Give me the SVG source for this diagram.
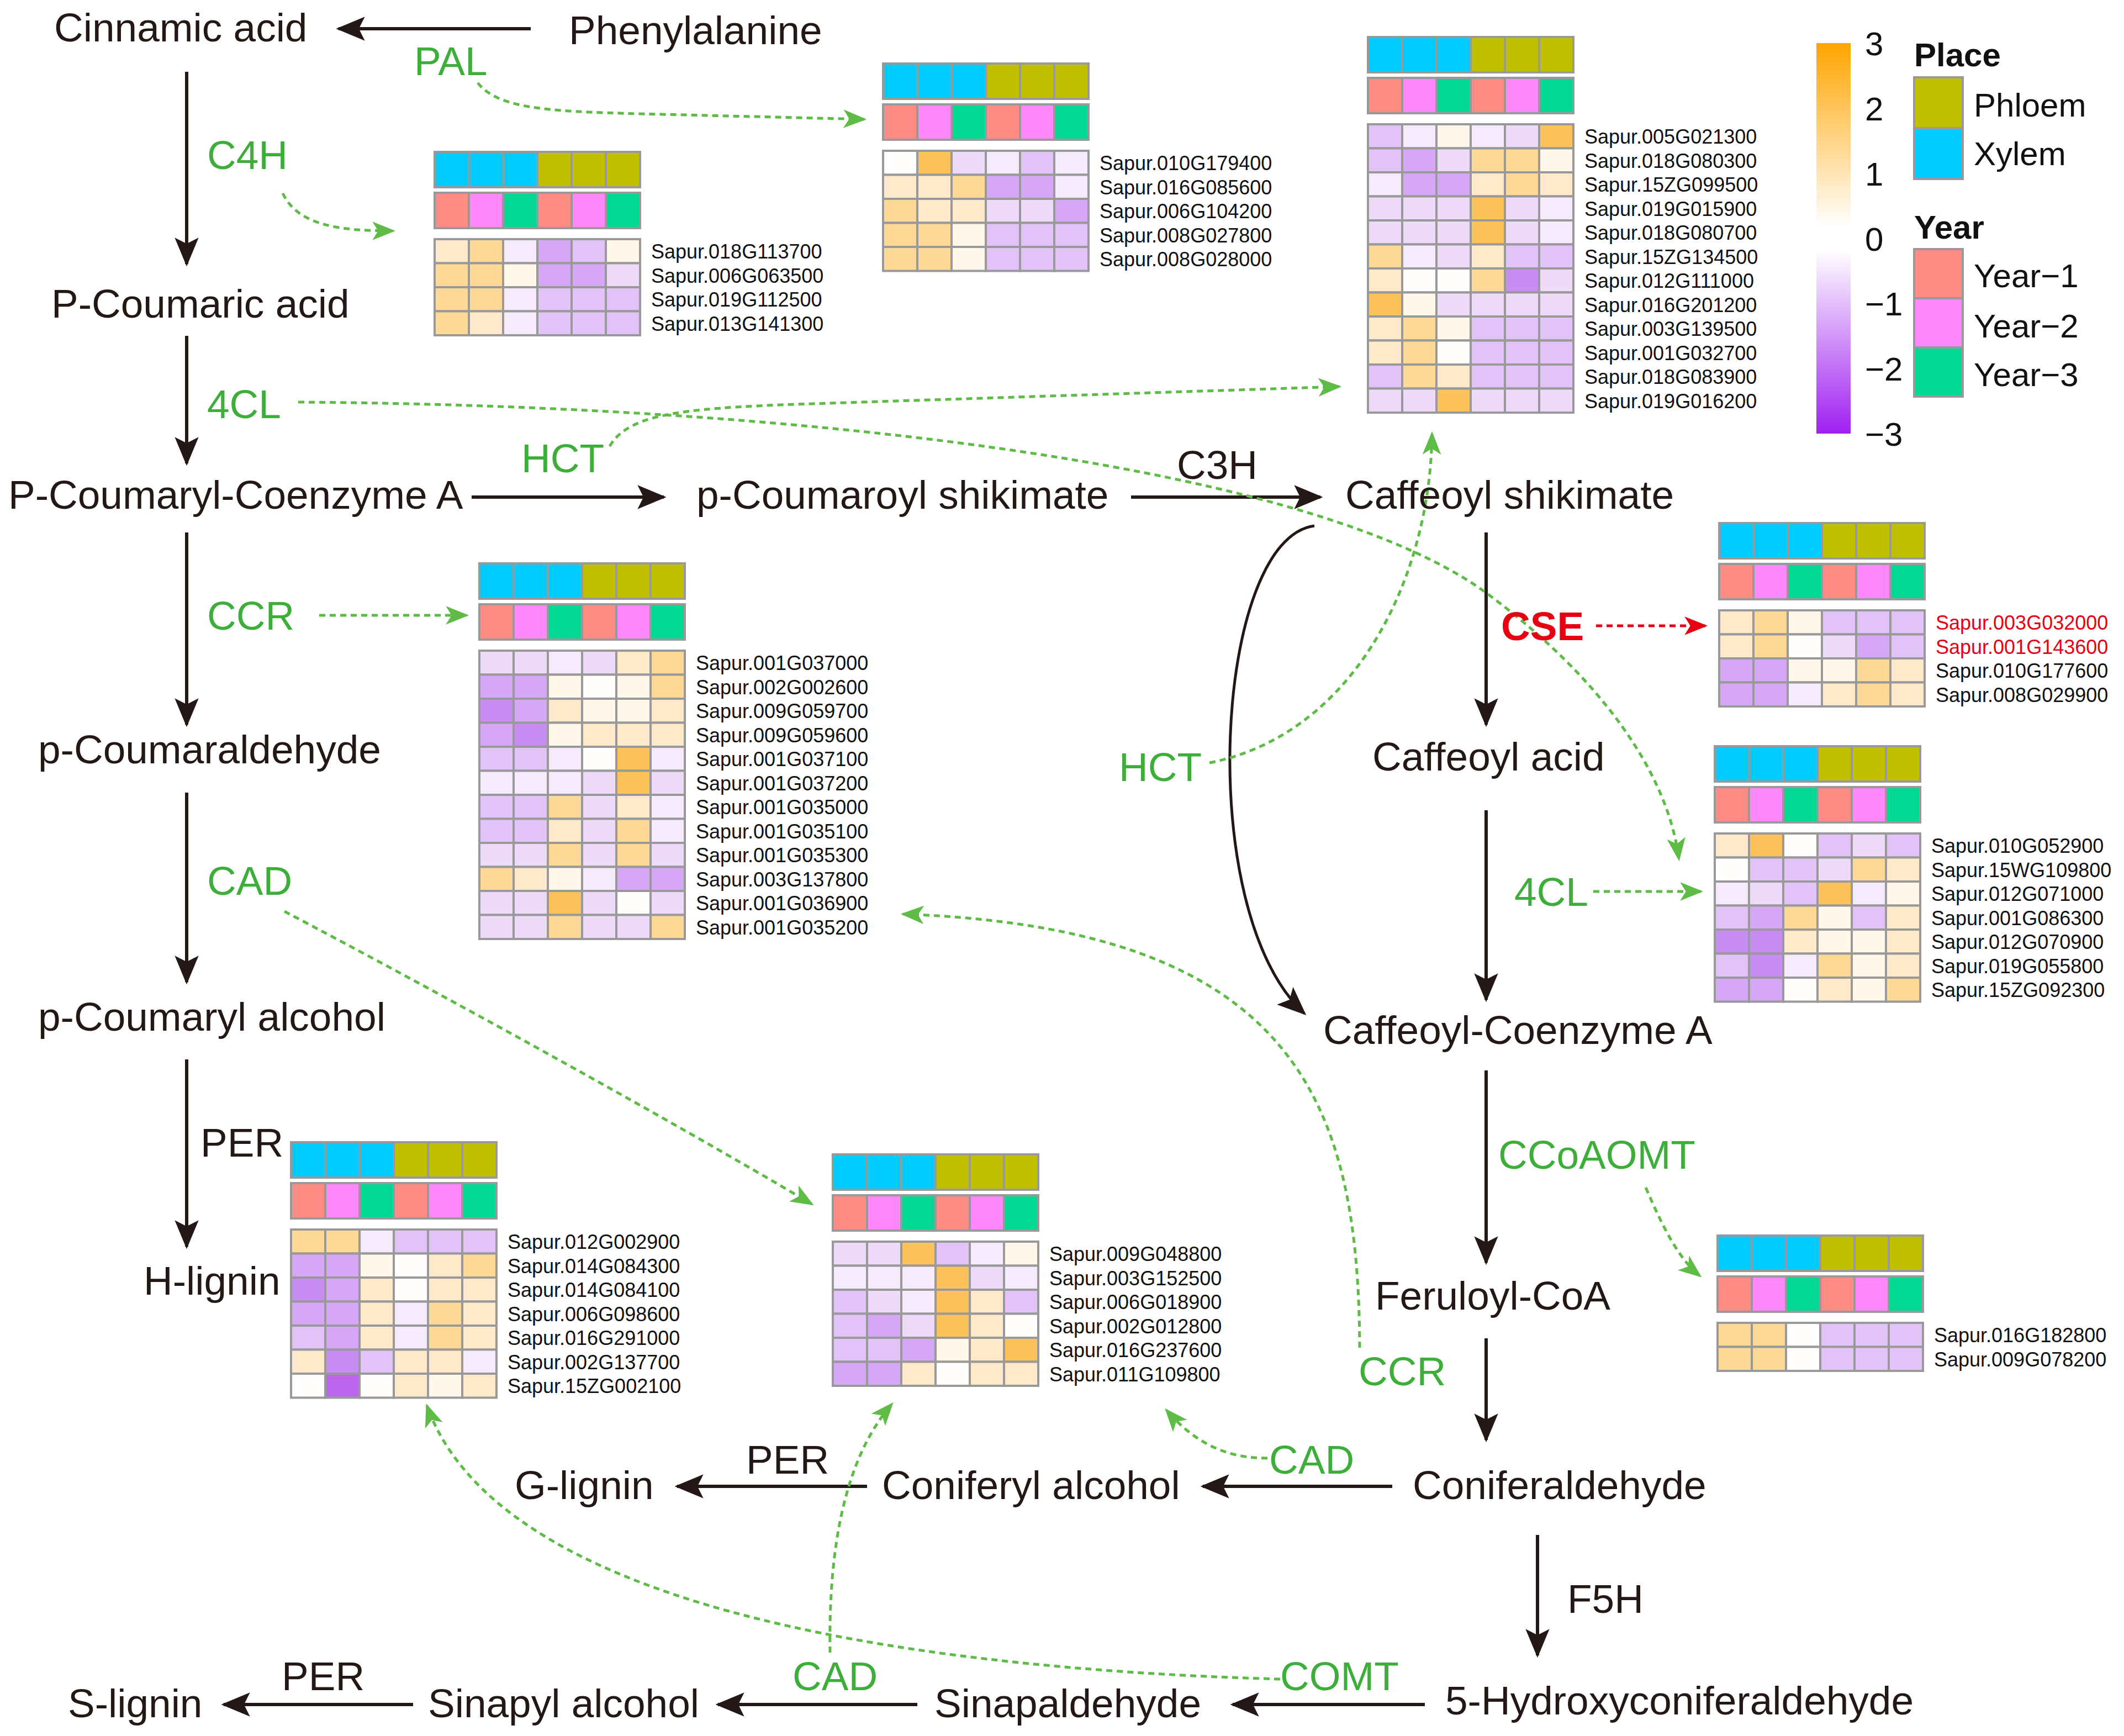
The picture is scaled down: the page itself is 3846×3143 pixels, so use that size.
<svg xmlns="http://www.w3.org/2000/svg" xmlns:xlink="http://www.w3.org/1999/xlink" width="3846" height="3143" viewBox="0 0 3846 3143">
<style>
text{font-family:"Liberation Sans",Arial,sans-serif}
.cmp{font-size:73px;fill:#231815}
.enz{font-size:73px;fill:#3DAE3A}
.ebk{font-size:73px;fill:#231815}
.gene{font-size:36px;fill:#111}
.red{fill:#E60012}
.leg{font-size:60px;fill:#111}
.legb{font-size:60px;font-weight:bold;fill:#111}
.solid{fill:none;stroke:#231815;stroke-width:6;marker-end:url(#ab)}
.dash{fill:none;stroke:#5DBB46;stroke-width:5;stroke-dasharray:11 8;marker-end:url(#ag)}
.rdash{fill:none;stroke:#E60012;stroke-width:5;stroke-dasharray:11 8;marker-end:url(#ar)}
.hm use,.hm rect{stroke:#999;stroke-width:4}
.xy{fill:#00CCFF}.ph{fill:#C0C000}.y1{fill:#FF8C84}.y2{fill:#FF88FA}.y3{fill:#00D894}
.o3{fill:#FDC35A}.o2{fill:#FED995}.o1{fill:#FEEACB}.o0{fill:#FFF7EA}.w{fill:#FFFEFC}
.p0{fill:#F6EBFC}.p1{fill:#EEDAF9}.p2{fill:#E2C3F7}.p3{fill:#D5A7F4}.p4{fill:#C88DF2}.p5{fill:#BA66EE}
</style>
<defs>
<marker id="ab" viewBox="0 0 24 20" refX="22" refY="10" markerWidth="52" markerHeight="44" markerUnits="userSpaceOnUse" orient="auto"><path d="M0,0 L24,10 L0,20 L5,10 z" fill="#231815"/></marker>
<marker id="ag" viewBox="0 0 20 16" refX="18" refY="8" markerWidth="42" markerHeight="34" markerUnits="userSpaceOnUse" orient="auto"><path d="M0,0 L20,8 L0,16 L5,8 z" fill="#5DBB46"/></marker>
<marker id="ar" viewBox="0 0 20 16" refX="18" refY="8" markerWidth="42" markerHeight="34" markerUnits="userSpaceOnUse" orient="auto"><path d="M0,0 L20,8 L0,16 L5,8 z" fill="#E60012"/></marker>
<linearGradient id="cb" x1="0" y1="0" x2="0" y2="1">
<stop offset="0" stop-color="#FFA500"/><stop offset="0.47" stop-color="#FFFFFF"/><stop offset="0.53" stop-color="#FFFFFF"/><stop offset="1" stop-color="#A020F0"/>
</linearGradient>
<rect id="k" width="62" height="43.5"/>
<g id="ann">
<rect x="0" y="0" width="62" height="64" class="xy"/><rect x="62" y="0" width="62" height="64" class="xy"/><rect x="124" y="0" width="62" height="64" class="xy"/><rect x="186" y="0" width="62" height="64" class="ph"/><rect x="248" y="0" width="62" height="64" class="ph"/><rect x="310" y="0" width="62" height="64" class="ph"/>
<rect x="0" y="74" width="62" height="64" class="y1"/><rect x="62" y="74" width="62" height="64" class="y2"/><rect x="124" y="74" width="62" height="64" class="y3"/><rect x="186" y="74" width="62" height="64" class="y1"/><rect x="248" y="74" width="62" height="64" class="y2"/><rect x="310" y="74" width="62" height="64" class="y3"/>
</g>
</defs>
<rect width="3846" height="3143" fill="#FFFFFF"/>

<g id="connectors">
<path class="solid" d="M961,52 L613,52"/>
<path class="solid" d="M338,130 L338,478"/>
<path class="solid" d="M338,608 L338,839"/>
<path class="solid" d="M854,900 L1202,900"/>
<path class="solid" d="M2048,900 L2391,900"/>
<path class="solid" d="M2691,964 L2691,1312"/>
<path class="solid" d="M2691,1467 L2691,1810"/>
<path class="solid" d="M2691,1938 L2691,2286"/>
<path class="solid" d="M2691,2423 L2691,2607"/>
<path class="solid" d="M2521,2691 L2178,2691"/>
<path class="solid" d="M1570,2691 L1226,2691"/>
<path class="solid" d="M2784,2779 L2784,2997"/>
<path class="solid" d="M2580,3086 L2232,3086"/>
<path class="solid" d="M1661,3086 L1300,3086"/>
<path class="solid" d="M748,3086 L405,3086"/>
<path class="solid" d="M338,964 L338,1312"/>
<path class="solid" d="M338,1435 L338,1778"/>
<path class="solid" d="M338,1918 L338,2257"/>
<path class="solid" style="stroke-width:5" d="M2380,952 C2200,975 2160,1650 2362,1835"/>
<path class="dash" d="M865,150 C905,200 1000,202 1200,207 L1565,216"/>
<path class="dash" d="M512,350 C540,410 620,418 712,418"/>
<path class="dash" d="M540,728 C1500,735 2400,850 2700,1080 C2900,1230 3020,1400 3040,1555"/>
<path class="dash" d="M1104,808 C1140,745 1250,738 1500,730 L2425,700"/>
<path class="dash" d="M2190,1381 C2450,1330 2590,1050 2593,785"/>
<path class="rdash" d="M2890,1133 L3088,1133"/>
<path class="dash" d="M2885,1614 L3080,1614"/>
<path class="dash" d="M578,1114 L845,1114"/>
<path class="dash" d="M515,1650 C800,1800 1200,2020 1470,2180"/>
<path class="dash" d="M2462,2440 C2460,2000 2350,1680 1635,1655"/>
<path class="dash" d="M2295,2640 C2230,2640 2170,2620 2112,2553"/>
<path class="dash" d="M2980,2150 C3010,2220 3040,2280 3078,2310"/>
<path class="dash" d="M2318,3040 C1600,3020 900,2900 773,2545"/>
<path class="dash" d="M1503,2992 C1500,2800 1530,2640 1615,2542"/>
</g>

<g id="compounds">
<g id="n-cinnamic"><text class="cmp" x="98" y="75">Cinnamic acid</text></g>
<g id="n-phe"><text class="cmp" x="1030" y="80">Phenylalanine</text></g>
<g id="n-pcoumaric"><text class="cmp" x="93" y="575">P-Coumaric acid</text></g>
<g id="n-pcoa"><text class="cmp" x="15" y="921">P-Coumaryl-Coenzyme A</text></g>
<g id="n-pshik"><text class="cmp" x="1261" y="921">p-Coumaroyl shikimate</text></g>
<g id="n-cshik"><text class="cmp" x="2436" y="921">Caffeoyl shikimate</text></g>
<g id="n-cacid"><text class="cmp" x="2485" y="1395">Caffeoyl acid</text></g>
<g id="n-ccoa"><text class="cmp" x="2396" y="1890">Caffeoyl-Coenzyme A</text></g>
<g id="n-fcoa"><text class="cmp" x="2490" y="2371">Feruloyl-CoA</text></g>
<g id="n-conald"><text class="cmp" x="2558" y="2714">Coniferaldehyde</text></g>
<g id="n-conalc"><text class="cmp" x="1597" y="2714">Coniferyl alcohol</text></g>
<g id="n-glig"><text class="cmp" x="932" y="2714">G-lignin</text></g>
<g id="n-5h"><text class="cmp" x="2617" y="3104">5-Hydroxyconiferaldehyde</text></g>
<g id="n-sinald"><text class="cmp" x="1692" y="3109">Sinapaldehyde</text></g>
<g id="n-sinalc"><text class="cmp" x="775" y="3109">Sinapyl alcohol</text></g>
<g id="n-slig"><text class="cmp" x="123" y="3109">S-lignin</text></g>
<g id="n-pcald"><text class="cmp" x="69" y="1382">p-Coumaraldehyde</text></g>
<g id="n-pcalc"><text class="cmp" x="69" y="1866">p-Coumaryl alcohol</text></g>
<g id="n-hlig"><text class="cmp" x="260" y="2344">H-lignin</text></g>
</g>

<g id="enzymes">
<text class="enz" x="750" y="136">PAL</text>
<text class="enz" x="375" y="306">C4H</text>
<text class="enz" x="375" y="757">4CL</text>
<text class="enz" x="944" y="855">HCT</text>
<text class="enz" x="375" y="1140">CCR</text>
<text class="enz" x="375" y="1620">CAD</text>
<text class="enz" x="2026" y="1414">HCT</text>
<text class="enz red" x="2718" y="1159" style="font-weight:bold">CSE</text>
<text class="enz" x="2742" y="1640">4CL</text>
<text class="enz" x="2713" y="2116">CCoAOMT</text>
<text class="enz" x="2460" y="2508">CCR</text>
<text class="enz" x="2298" y="2668">CAD</text>
<text class="enz" x="2318" y="3060">COMT</text>
<text class="enz" x="1435" y="3060">CAD</text>
<text class="ebk" x="2131" y="867">C3H</text>
<text class="ebk" x="363" y="2094">PER</text>
<text class="ebk" x="1351" y="2668">PER</text>
<text class="ebk" x="2838" y="2920">F5H</text>
<text class="ebk" x="510" y="3060">PER</text>
</g>

<g id="hm-pal" class="hm" transform="translate(1599,115)">
<use href="#ann"/>
<g transform="translate(0,158)"><use href="#k" class="w"/><use href="#k" x="62" class="o3"/><use href="#k" x="124" class="p1"/><use href="#k" x="186" class="p0"/><use href="#k" x="248" class="p2"/><use href="#k" x="310" class="p0"/></g>
<g transform="translate(0,201.5)"><use href="#k" class="o1"/><use href="#k" x="62" class="o1"/><use href="#k" x="124" class="o2"/><use href="#k" x="186" class="p3"/><use href="#k" x="248" class="p3"/><use href="#k" x="310" class="p0"/></g>
<g transform="translate(0,245)"><use href="#k" class="o2"/><use href="#k" x="62" class="o1"/><use href="#k" x="124" class="o1"/><use href="#k" x="186" class="p1"/><use href="#k" x="248" class="p1"/><use href="#k" x="310" class="p3"/></g>
<g transform="translate(0,288.5)"><use href="#k" class="o2"/><use href="#k" x="62" class="o2"/><use href="#k" x="124" class="o0"/><use href="#k" x="186" class="p2"/><use href="#k" x="248" class="p2"/><use href="#k" x="310" class="p2"/></g>
<g transform="translate(0,332)"><use href="#k" class="o2"/><use href="#k" x="62" class="o2"/><use href="#k" x="124" class="o0"/><use href="#k" x="186" class="p2"/><use href="#k" x="248" class="p2"/><use href="#k" x="310" class="p2"/></g>
<text class="gene" x="392" y="193"><tspan x="392">Sapur.010G179400</tspan><tspan x="392" dy="43.5">Sapur.016G085600</tspan><tspan x="392" dy="43.5">Sapur.006G104200</tspan><tspan x="392" dy="43.5">Sapur.008G027800</tspan><tspan x="392" dy="43.5">Sapur.008G028000</tspan></text>
</g>

<g id="hm-c4h" class="hm" transform="translate(787,275)">
<use href="#ann"/>
<g transform="translate(0,158)"><use href="#k" class="o1"/><use href="#k" x="62" class="o2"/><use href="#k" x="124" class="p0"/><use href="#k" x="186" class="p3"/><use href="#k" x="248" class="p2"/><use href="#k" x="310" class="o0"/></g>
<g transform="translate(0,201.5)"><use href="#k" class="o2"/><use href="#k" x="62" class="o2"/><use href="#k" x="124" class="o0"/><use href="#k" x="186" class="p3"/><use href="#k" x="248" class="p3"/><use href="#k" x="310" class="p1"/></g>
<g transform="translate(0,245)"><use href="#k" class="o2"/><use href="#k" x="62" class="o2"/><use href="#k" x="124" class="p0"/><use href="#k" x="186" class="p2"/><use href="#k" x="248" class="p2"/><use href="#k" x="310" class="p2"/></g>
<g transform="translate(0,288.5)"><use href="#k" class="o2"/><use href="#k" x="62" class="o1"/><use href="#k" x="124" class="p0"/><use href="#k" x="186" class="p2"/><use href="#k" x="248" class="p2"/><use href="#k" x="310" class="p2"/></g>
<text class="gene" x="392" y="193"><tspan x="392">Sapur.018G113700</tspan><tspan x="392" dy="43.5">Sapur.006G063500</tspan><tspan x="392" dy="43.5">Sapur.019G112500</tspan><tspan x="392" dy="43.5">Sapur.013G141300</tspan></text>
</g>

<g id="hm-hct" class="hm" transform="translate(2477,67)">
<use href="#ann"/>
<g transform="translate(0,158)"><use href="#k" class="p2"/><use href="#k" x="62" class="p0"/><use href="#k" x="124" class="o0"/><use href="#k" x="186" class="p0"/><use href="#k" x="248" class="p1"/><use href="#k" x="310" class="o3"/></g>
<g transform="translate(0,201.5)"><use href="#k" class="p2"/><use href="#k" x="62" class="p3"/><use href="#k" x="124" class="p1"/><use href="#k" x="186" class="o2"/><use href="#k" x="248" class="o2"/><use href="#k" x="310" class="o0"/></g>
<g transform="translate(0,245)"><use href="#k" class="p0"/><use href="#k" x="62" class="p3"/><use href="#k" x="124" class="p3"/><use href="#k" x="186" class="o1"/><use href="#k" x="248" class="o2"/><use href="#k" x="310" class="o1"/></g>
<g transform="translate(0,288.5)"><use href="#k" class="p1"/><use href="#k" x="62" class="p1"/><use href="#k" x="124" class="p1"/><use href="#k" x="186" class="o3"/><use href="#k" x="248" class="p1"/><use href="#k" x="310" class="p0"/></g>
<g transform="translate(0,332)"><use href="#k" class="p1"/><use href="#k" x="62" class="p1"/><use href="#k" x="124" class="p1"/><use href="#k" x="186" class="o3"/><use href="#k" x="248" class="p1"/><use href="#k" x="310" class="p0"/></g>
<g transform="translate(0,375.5)"><use href="#k" class="o2"/><use href="#k" x="62" class="p0"/><use href="#k" x="124" class="p1"/><use href="#k" x="186" class="o1"/><use href="#k" x="248" class="p2"/><use href="#k" x="310" class="p2"/></g>
<g transform="translate(0,419)"><use href="#k" class="o1"/><use href="#k" x="62" class="w"/><use href="#k" x="124" class="w"/><use href="#k" x="186" class="o2"/><use href="#k" x="248" class="p4"/><use href="#k" x="310" class="p1"/></g>
<g transform="translate(0,462.5)"><use href="#k" class="o3"/><use href="#k" x="62" class="o0"/><use href="#k" x="124" class="p1"/><use href="#k" x="186" class="p1"/><use href="#k" x="248" class="p1"/><use href="#k" x="310" class="p1"/></g>
<g transform="translate(0,506)"><use href="#k" class="o1"/><use href="#k" x="62" class="o2"/><use href="#k" x="124" class="o0"/><use href="#k" x="186" class="p2"/><use href="#k" x="248" class="p2"/><use href="#k" x="310" class="p2"/></g>
<g transform="translate(0,549.5)"><use href="#k" class="o1"/><use href="#k" x="62" class="o2"/><use href="#k" x="124" class="w"/><use href="#k" x="186" class="p2"/><use href="#k" x="248" class="p2"/><use href="#k" x="310" class="p2"/></g>
<g transform="translate(0,593)"><use href="#k" class="p2"/><use href="#k" x="62" class="o2"/><use href="#k" x="124" class="o1"/><use href="#k" x="186" class="p2"/><use href="#k" x="248" class="p2"/><use href="#k" x="310" class="p2"/></g>
<g transform="translate(0,636.5)"><use href="#k" class="p1"/><use href="#k" x="62" class="p1"/><use href="#k" x="124" class="o3"/><use href="#k" x="186" class="p1"/><use href="#k" x="248" class="p1"/><use href="#k" x="310" class="p1"/></g>
<text class="gene" x="392" y="193"><tspan x="392">Sapur.005G021300</tspan><tspan x="392" dy="43.5">Sapur.018G080300</tspan><tspan x="392" dy="43.5">Sapur.15ZG099500</tspan><tspan x="392" dy="43.5">Sapur.019G015900</tspan><tspan x="392" dy="43.5">Sapur.018G080700</tspan><tspan x="392" dy="43.5">Sapur.15ZG134500</tspan><tspan x="392" dy="43.5">Sapur.012G111000</tspan><tspan x="392" dy="43.5">Sapur.016G201200</tspan><tspan x="392" dy="43.5">Sapur.003G139500</tspan><tspan x="392" dy="43.5">Sapur.001G032700</tspan><tspan x="392" dy="43.5">Sapur.018G083900</tspan><tspan x="392" dy="43.5">Sapur.019G016200</tspan></text>
</g>

<g id="hm-ccr" class="hm" transform="translate(868,1020)">
<use href="#ann"/>
<g transform="translate(0,158)"><use href="#k" class="p1"/><use href="#k" x="62" class="p1"/><use href="#k" x="124" class="p0"/><use href="#k" x="186" class="p1"/><use href="#k" x="248" class="o1"/><use href="#k" x="310" class="o2"/></g>
<g transform="translate(0,201.5)"><use href="#k" class="p3"/><use href="#k" x="62" class="p3"/><use href="#k" x="124" class="o0"/><use href="#k" x="186" class="w"/><use href="#k" x="248" class="o0"/><use href="#k" x="310" class="o2"/></g>
<g transform="translate(0,245)"><use href="#k" class="p4"/><use href="#k" x="62" class="p3"/><use href="#k" x="124" class="o1"/><use href="#k" x="186" class="o0"/><use href="#k" x="248" class="o0"/><use href="#k" x="310" class="o1"/></g>
<g transform="translate(0,288.5)"><use href="#k" class="p3"/><use href="#k" x="62" class="p4"/><use href="#k" x="124" class="o0"/><use href="#k" x="186" class="o1"/><use href="#k" x="248" class="o1"/><use href="#k" x="310" class="o1"/></g>
<g transform="translate(0,332)"><use href="#k" class="p2"/><use href="#k" x="62" class="p2"/><use href="#k" x="124" class="p0"/><use href="#k" x="186" class="w"/><use href="#k" x="248" class="o3"/><use href="#k" x="310" class="p0"/></g>
<g transform="translate(0,375.5)"><use href="#k" class="p0"/><use href="#k" x="62" class="p0"/><use href="#k" x="124" class="p0"/><use href="#k" x="186" class="p1"/><use href="#k" x="248" class="o3"/><use href="#k" x="310" class="p1"/></g>
<g transform="translate(0,419)"><use href="#k" class="p2"/><use href="#k" x="62" class="p2"/><use href="#k" x="124" class="o2"/><use href="#k" x="186" class="p1"/><use href="#k" x="248" class="o1"/><use href="#k" x="310" class="p0"/></g>
<g transform="translate(0,462.5)"><use href="#k" class="p2"/><use href="#k" x="62" class="p2"/><use href="#k" x="124" class="o1"/><use href="#k" x="186" class="p1"/><use href="#k" x="248" class="o2"/><use href="#k" x="310" class="p0"/></g>
<g transform="translate(0,506)"><use href="#k" class="p1"/><use href="#k" x="62" class="p1"/><use href="#k" x="124" class="o2"/><use href="#k" x="186" class="p1"/><use href="#k" x="248" class="o2"/><use href="#k" x="310" class="p1"/></g>
<g transform="translate(0,549.5)"><use href="#k" class="o2"/><use href="#k" x="62" class="o1"/><use href="#k" x="124" class="o0"/><use href="#k" x="186" class="p0"/><use href="#k" x="248" class="p3"/><use href="#k" x="310" class="p3"/></g>
<g transform="translate(0,593)"><use href="#k" class="p1"/><use href="#k" x="62" class="p1"/><use href="#k" x="124" class="o3"/><use href="#k" x="186" class="p1"/><use href="#k" x="248" class="w"/><use href="#k" x="310" class="p1"/></g>
<g transform="translate(0,636.5)"><use href="#k" class="p1"/><use href="#k" x="62" class="p1"/><use href="#k" x="124" class="o2"/><use href="#k" x="186" class="p1"/><use href="#k" x="248" class="p1"/><use href="#k" x="310" class="o2"/></g>
<text class="gene" x="392" y="193"><tspan x="392">Sapur.001G037000</tspan><tspan x="392" dy="43.5">Sapur.002G002600</tspan><tspan x="392" dy="43.5">Sapur.009G059700</tspan><tspan x="392" dy="43.5">Sapur.009G059600</tspan><tspan x="392" dy="43.5">Sapur.001G037100</tspan><tspan x="392" dy="43.5">Sapur.001G037200</tspan><tspan x="392" dy="43.5">Sapur.001G035000</tspan><tspan x="392" dy="43.5">Sapur.001G035100</tspan><tspan x="392" dy="43.5">Sapur.001G035300</tspan><tspan x="392" dy="43.5">Sapur.003G137800</tspan><tspan x="392" dy="43.5">Sapur.001G036900</tspan><tspan x="392" dy="43.5">Sapur.001G035200</tspan></text>
</g>

<g id="hm-cse" class="hm" transform="translate(3113,947)">
<use href="#ann"/>
<g transform="translate(0,158)"><use href="#k" class="o1"/><use href="#k" x="62" class="o2"/><use href="#k" x="124" class="o0"/><use href="#k" x="186" class="p2"/><use href="#k" x="248" class="p2"/><use href="#k" x="310" class="p2"/></g>
<g transform="translate(0,201.5)"><use href="#k" class="o1"/><use href="#k" x="62" class="o2"/><use href="#k" x="124" class="w"/><use href="#k" x="186" class="p1"/><use href="#k" x="248" class="p3"/><use href="#k" x="310" class="p2"/></g>
<g transform="translate(0,245)"><use href="#k" class="p3"/><use href="#k" x="62" class="p3"/><use href="#k" x="124" class="o0"/><use href="#k" x="186" class="o0"/><use href="#k" x="248" class="o2"/><use href="#k" x="310" class="o1"/></g>
<g transform="translate(0,288.5)"><use href="#k" class="p3"/><use href="#k" x="62" class="p3"/><use href="#k" x="124" class="p0"/><use href="#k" x="186" class="o1"/><use href="#k" x="248" class="o2"/><use href="#k" x="310" class="o1"/></g>
<text class="gene" x="392" y="193"><tspan x="392" class="red">Sapur.003G032000</tspan><tspan x="392" dy="43.5" class="red">Sapur.001G143600</tspan><tspan x="392" dy="43.5">Sapur.010G177600</tspan><tspan x="392" dy="43.5">Sapur.008G029900</tspan></text>
</g>

<g id="hm-4cl" class="hm" transform="translate(3105,1351)">
<use href="#ann"/>
<g transform="translate(0,158)"><use href="#k" class="o1"/><use href="#k" x="62" class="o3"/><use href="#k" x="124" class="w"/><use href="#k" x="186" class="p2"/><use href="#k" x="248" class="p1"/><use href="#k" x="310" class="p2"/></g>
<g transform="translate(0,201.5)"><use href="#k" class="w"/><use href="#k" x="62" class="p2"/><use href="#k" x="124" class="p2"/><use href="#k" x="186" class="p1"/><use href="#k" x="248" class="o2"/><use href="#k" x="310" class="o1"/></g>
<g transform="translate(0,245)"><use href="#k" class="p0"/><use href="#k" x="62" class="p1"/><use href="#k" x="124" class="p2"/><use href="#k" x="186" class="o3"/><use href="#k" x="248" class="p0"/><use href="#k" x="310" class="o0"/></g>
<g transform="translate(0,288.5)"><use href="#k" class="p2"/><use href="#k" x="62" class="p3"/><use href="#k" x="124" class="o2"/><use href="#k" x="186" class="o0"/><use href="#k" x="248" class="p2"/><use href="#k" x="310" class="o1"/></g>
<g transform="translate(0,332)"><use href="#k" class="p4"/><use href="#k" x="62" class="p4"/><use href="#k" x="124" class="o1"/><use href="#k" x="186" class="o0"/><use href="#k" x="248" class="o0"/><use href="#k" x="310" class="o1"/></g>
<g transform="translate(0,375.5)"><use href="#k" class="p2"/><use href="#k" x="62" class="p4"/><use href="#k" x="124" class="p0"/><use href="#k" x="186" class="o2"/><use href="#k" x="248" class="o0"/><use href="#k" x="310" class="o1"/></g>
<g transform="translate(0,419)"><use href="#k" class="p3"/><use href="#k" x="62" class="p3"/><use href="#k" x="124" class="w"/><use href="#k" x="186" class="o1"/><use href="#k" x="248" class="o0"/><use href="#k" x="310" class="o2"/></g>
<text class="gene" x="392" y="193"><tspan x="392">Sapur.010G052900</tspan><tspan x="392" dy="43.5">Sapur.15WG109800</tspan><tspan x="392" dy="43.5">Sapur.012G071000</tspan><tspan x="392" dy="43.5">Sapur.001G086300</tspan><tspan x="392" dy="43.5">Sapur.012G070900</tspan><tspan x="392" dy="43.5">Sapur.019G055800</tspan><tspan x="392" dy="43.5">Sapur.15ZG092300</tspan></text>
</g>

<g id="hm-ccoaomt" class="hm" transform="translate(3110,2237)">
<use href="#ann"/>
<g transform="translate(0,158)"><use href="#k" class="o2"/><use href="#k" x="62" class="o2"/><use href="#k" x="124" class="w"/><use href="#k" x="186" class="p2"/><use href="#k" x="248" class="p2"/><use href="#k" x="310" class="p2"/></g>
<g transform="translate(0,201.5)"><use href="#k" class="o2"/><use href="#k" x="62" class="o2"/><use href="#k" x="124" class="w"/><use href="#k" x="186" class="p2"/><use href="#k" x="248" class="p2"/><use href="#k" x="310" class="p2"/></g>
<text class="gene" x="392" y="193"><tspan x="392">Sapur.016G182800</tspan><tspan x="392" dy="43.5">Sapur.009G078200</tspan></text>
</g>

<g id="hm-per" class="hm" transform="translate(527,2068)">
<use href="#ann"/>
<g transform="translate(0,158)"><use href="#k" class="o2"/><use href="#k" x="62" class="o2"/><use href="#k" x="124" class="p0"/><use href="#k" x="186" class="p2"/><use href="#k" x="248" class="p2"/><use href="#k" x="310" class="p2"/></g>
<g transform="translate(0,201.5)"><use href="#k" class="p3"/><use href="#k" x="62" class="p3"/><use href="#k" x="124" class="o0"/><use href="#k" x="186" class="w"/><use href="#k" x="248" class="o1"/><use href="#k" x="310" class="o2"/></g>
<g transform="translate(0,245)"><use href="#k" class="p4"/><use href="#k" x="62" class="p3"/><use href="#k" x="124" class="o1"/><use href="#k" x="186" class="w"/><use href="#k" x="248" class="o1"/><use href="#k" x="310" class="o1"/></g>
<g transform="translate(0,288.5)"><use href="#k" class="p3"/><use href="#k" x="62" class="p3"/><use href="#k" x="124" class="o1"/><use href="#k" x="186" class="p0"/><use href="#k" x="248" class="o2"/><use href="#k" x="310" class="o1"/></g>
<g transform="translate(0,332)"><use href="#k" class="p2"/><use href="#k" x="62" class="p3"/><use href="#k" x="124" class="o1"/><use href="#k" x="186" class="p0"/><use href="#k" x="248" class="o2"/><use href="#k" x="310" class="o1"/></g>
<g transform="translate(0,375.5)"><use href="#k" class="o1"/><use href="#k" x="62" class="p4"/><use href="#k" x="124" class="p2"/><use href="#k" x="186" class="o1"/><use href="#k" x="248" class="o1"/><use href="#k" x="310" class="p0"/></g>
<g transform="translate(0,419)"><use href="#k" class="w"/><use href="#k" x="62" class="p5"/><use href="#k" x="124" class="w"/><use href="#k" x="186" class="o1"/><use href="#k" x="248" class="o0"/><use href="#k" x="310" class="o1"/></g>
<text class="gene" x="392" y="193"><tspan x="392">Sapur.012G002900</tspan><tspan x="392" dy="43.5">Sapur.014G084300</tspan><tspan x="392" dy="43.5">Sapur.014G084100</tspan><tspan x="392" dy="43.5">Sapur.006G098600</tspan><tspan x="392" dy="43.5">Sapur.016G291000</tspan><tspan x="392" dy="43.5">Sapur.002G137700</tspan><tspan x="392" dy="43.5">Sapur.15ZG002100</tspan></text>
</g>

<g id="hm-cad" class="hm" transform="translate(1508,2090)">
<use href="#ann"/>
<g transform="translate(0,158)"><use href="#k" class="p1"/><use href="#k" x="62" class="p1"/><use href="#k" x="124" class="o3"/><use href="#k" x="186" class="p2"/><use href="#k" x="248" class="p0"/><use href="#k" x="310" class="o0"/></g>
<g transform="translate(0,201.5)"><use href="#k" class="p0"/><use href="#k" x="62" class="p0"/><use href="#k" x="124" class="p0"/><use href="#k" x="186" class="o3"/><use href="#k" x="248" class="p1"/><use href="#k" x="310" class="p0"/></g>
<g transform="translate(0,245)"><use href="#k" class="p2"/><use href="#k" x="62" class="p1"/><use href="#k" x="124" class="p0"/><use href="#k" x="186" class="o3"/><use href="#k" x="248" class="o1"/><use href="#k" x="310" class="p2"/></g>
<g transform="translate(0,288.5)"><use href="#k" class="p2"/><use href="#k" x="62" class="p3"/><use href="#k" x="124" class="p1"/><use href="#k" x="186" class="o3"/><use href="#k" x="248" class="o1"/><use href="#k" x="310" class="w"/></g>
<g transform="translate(0,332)"><use href="#k" class="p2"/><use href="#k" x="62" class="p2"/><use href="#k" x="124" class="p3"/><use href="#k" x="186" class="o0"/><use href="#k" x="248" class="o1"/><use href="#k" x="310" class="o3"/></g>
<g transform="translate(0,375.5)"><use href="#k" class="p3"/><use href="#k" x="62" class="p3"/><use href="#k" x="124" class="o1"/><use href="#k" x="186" class="w"/><use href="#k" x="248" class="o1"/><use href="#k" x="310" class="o1"/></g>
<text class="gene" x="392" y="193"><tspan x="392">Sapur.009G048800</tspan><tspan x="392" dy="43.5">Sapur.003G152500</tspan><tspan x="392" dy="43.5">Sapur.006G018900</tspan><tspan x="392" dy="43.5">Sapur.002G012800</tspan><tspan x="392" dy="43.5">Sapur.016G237600</tspan><tspan x="392" dy="43.5">Sapur.011G109800</tspan></text>
</g>

<g id="legend">
<rect x="3289" y="78" width="62" height="707" fill="url(#cb)"/>
<text class="leg" x="3377" y="100">3</text>
<text class="leg" x="3377" y="218">2</text>
<text class="leg" x="3377" y="336">1</text>
<text class="leg" x="3377" y="454">0</text>
<text class="leg" x="3377" y="571">−1</text>
<text class="leg" x="3377" y="689">−2</text>
<text class="leg" x="3377" y="807">−3</text>
<text class="legb" x="3466" y="120">Place</text>
<g class="hm"><rect x="3466" y="140" width="88" height="92" class="ph"/><rect x="3466" y="232" width="88" height="92" class="xy"/></g>
<text class="leg" x="3574" y="211">Phloem</text>
<text class="leg" x="3574" y="299">Xylem</text>
<text class="legb" x="3466" y="432">Year</text>
<g class="hm"><rect x="3466" y="451" width="88" height="89" class="y1"/><rect x="3466" y="540" width="88" height="89" class="y2"/><rect x="3466" y="629" width="88" height="89" class="y3"/></g>
<text class="leg" x="3574" y="520">Year−1</text>
<text class="leg" x="3574" y="611">Year−2</text>
<text class="leg" x="3574" y="699">Year−3</text>
</g>
</svg>
